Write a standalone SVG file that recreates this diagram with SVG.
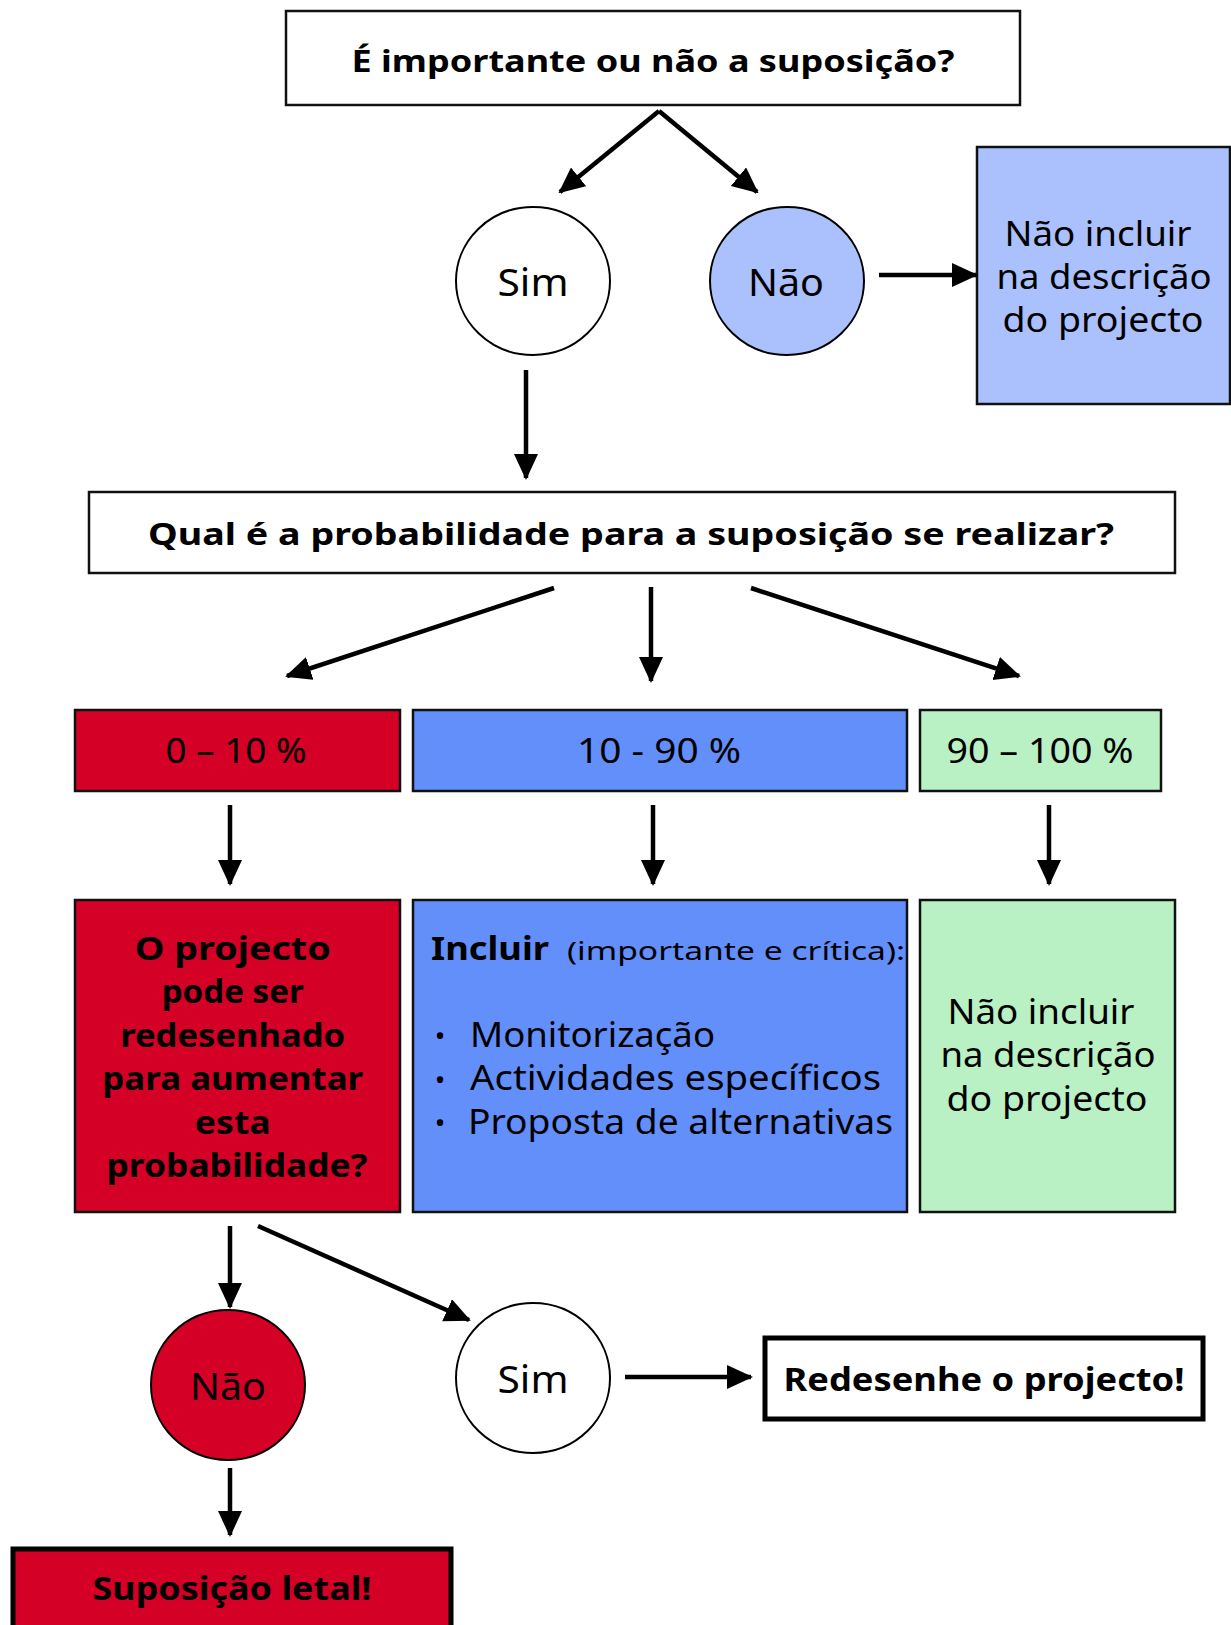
<svg xmlns="http://www.w3.org/2000/svg" width="1231" height="1625" viewBox="0 0 1231 1625">
<style>
text{font-family:"Noto Sans","DejaVu Sans",sans-serif;fill:#000;text-anchor:middle}
.b{font-weight:bold}
.box{stroke:#111;stroke-width:2.5}
.thick{stroke:#000;stroke-width:5}
.conn line{stroke:#000;stroke-width:4.5;marker-end:url(#ah)}
</style>
<defs>
<marker id="ah" markerUnits="userSpaceOnUse" markerWidth="26" markerHeight="26" refX="24" refY="12" orient="auto">
<path d="M0,0 L26,12 L0,24 Z" fill="#000"/>
</marker>
</defs>
<rect width="1231" height="1625" fill="#fff"/>

<g id="q1">
<rect class="box" x="286" y="11" width="734" height="94" fill="#fff"/>
<text class="b" x="653" y="72" font-size="30" textLength="603" lengthAdjust="spacingAndGlyphs">É importante ou não a suposição?</text>
</g>
<g id="sim1">
<ellipse cx="533" cy="281" rx="77" ry="74" fill="#fff" stroke="#000" stroke-width="2"/>
<text x="533" y="296" font-size="38" textLength="71" lengthAdjust="spacingAndGlyphs">Sim</text>
</g>
<g id="nao1">
<ellipse cx="787" cy="281" rx="77" ry="74" fill="#abc1fe" stroke="#000" stroke-width="2"/>
<text x="786" y="296" font-size="38" textLength="76" lengthAdjust="spacingAndGlyphs">Não</text>
</g>
<g id="naoincluir1">
<rect class="box" x="977" y="147" width="253" height="257" fill="#abc1fe"/>
<text x="1098" y="246" font-size="34" textLength="187" lengthAdjust="spacingAndGlyphs">Não incluir</text>
<text x="1104" y="289" font-size="34" textLength="215" lengthAdjust="spacingAndGlyphs">na descrição</text>
<text x="1103" y="332" font-size="34" textLength="201" lengthAdjust="spacingAndGlyphs">do projecto</text>
</g>
<g id="q2">
<rect class="box" x="89" y="492" width="1086" height="81" fill="#fff"/>
<text class="b" x="631" y="545" font-size="30" textLength="966" lengthAdjust="spacingAndGlyphs">Qual é a probabilidade para a suposição se realizar?</text>
</g>
<g id="r0">
<rect class="box" x="75" y="710" width="325" height="81" fill="#d40026"/>
<text x="236" y="763" font-size="34" textLength="141" lengthAdjust="spacingAndGlyphs">0 – 10 %</text>
</g>
<g id="r10">
<rect class="box" x="413" y="710" width="494" height="81" fill="#638ffb"/>
<text x="659" y="763" font-size="34" textLength="164" lengthAdjust="spacingAndGlyphs">10 - 90 %</text>
</g>
<g id="r90">
<rect class="box" x="920" y="710" width="241" height="81" fill="#b9f1c5"/>
<text x="1040" y="763" font-size="34" textLength="187" lengthAdjust="spacingAndGlyphs">90 – 100 %</text>
</g>
<g id="redesign">
<rect class="box" x="75" y="900" width="325" height="312" fill="#d40026"/>
<text class="b" font-size="33">
<tspan x="237" y="960" textLength="196" lengthAdjust="spacingAndGlyphs">O projecto</tspan>
<tspan x="237" y="1003" textLength="142" lengthAdjust="spacingAndGlyphs">pode ser</tspan>
<tspan x="237" y="1047" textLength="225" lengthAdjust="spacingAndGlyphs">redesenhado</tspan>
<tspan x="237" y="1090" textLength="261" lengthAdjust="spacingAndGlyphs">para aumentar</tspan>
<tspan x="237" y="1134" textLength="76" lengthAdjust="spacingAndGlyphs">esta</tspan>
<tspan x="237" y="1177" textLength="261" lengthAdjust="spacingAndGlyphs">probabilidade?</tspan>
</text>
</g>
<g id="incluir">
<rect class="box" x="413" y="900" width="494" height="312" fill="#638ffb"/>
<text class="b" x="431" y="960" font-size="32" style="text-anchor:start" textLength="118" lengthAdjust="spacingAndGlyphs">Incluir</text>
<text x="567" y="960" font-size="26" style="text-anchor:start" textLength="338" lengthAdjust="spacingAndGlyphs">(importante e crítica):</text>
<text x="440" y="1046" font-size="28">•</text>
<text x="440" y="1090" font-size="28">•</text>
<text x="440" y="1133" font-size="28">•</text>
<text x="470" y="1047" font-size="34" style="text-anchor:start" textLength="245" lengthAdjust="spacingAndGlyphs">Monitorização</text>
<text x="470" y="1090" font-size="34" style="text-anchor:start" textLength="411" lengthAdjust="spacingAndGlyphs">Actividades específicos</text>
<text x="468" y="1134" font-size="34" style="text-anchor:start" textLength="425" lengthAdjust="spacingAndGlyphs">Proposta de alternativas</text>
</g>
<g id="naoincluir2">
<rect class="box" x="920" y="900" width="255" height="312" fill="#b9f1c5"/>
<text x="1041" y="1024" font-size="34" textLength="187" lengthAdjust="spacingAndGlyphs">Não incluir</text>
<text x="1048" y="1067" font-size="34" textLength="215" lengthAdjust="spacingAndGlyphs">na descrição</text>
<text x="1047" y="1111" font-size="34" textLength="201" lengthAdjust="spacingAndGlyphs">do projecto</text>
</g>
<g id="nao2">
<ellipse cx="228" cy="1385" rx="77" ry="75" fill="#d40026" stroke="#000" stroke-width="2"/>
<text x="228" y="1400" font-size="38" textLength="76" lengthAdjust="spacingAndGlyphs">Não</text>
</g>
<g id="sim2">
<ellipse cx="533" cy="1378" rx="77" ry="75" fill="#fff" stroke="#000" stroke-width="2"/>
<text x="533" y="1393" font-size="38" textLength="71" lengthAdjust="spacingAndGlyphs">Sim</text>
</g>
<g id="redesenhe">
<rect class="thick" x="765" y="1338" width="438" height="81" fill="#fff"/>
<text class="b" x="984" y="1391" font-size="32" textLength="401" lengthAdjust="spacingAndGlyphs">Redesenhe o projecto!</text>
</g>
<g id="letal">
<rect class="thick" x="13" y="1549" width="438" height="90" fill="#d40026"/>
<text class="b" x="232" y="1600" font-size="32" textLength="279" lengthAdjust="spacingAndGlyphs">Suposição letal!</text>
</g>

<g id="connectors" class="conn">
<line x1="659" y1="111" x2="560" y2="192"/>
<line x1="659" y1="111" x2="757" y2="192"/>
<line x1="879" y1="275" x2="976" y2="275"/>
<line x1="526" y1="370" x2="526" y2="478"/>
<line x1="554" y1="588" x2="287" y2="676"/>
<line x1="651" y1="587" x2="651" y2="681"/>
<line x1="751" y1="588" x2="1019" y2="676"/>
<line x1="230" y1="805" x2="230" y2="884"/>
<line x1="653" y1="805" x2="653" y2="884"/>
<line x1="1049" y1="805" x2="1049" y2="884"/>
<line x1="230" y1="1226" x2="230" y2="1307"/>
<line x1="258" y1="1226" x2="469" y2="1320"/>
<line x1="625" y1="1377" x2="751" y2="1377"/>
<line x1="230" y1="1468" x2="230" y2="1535"/>
</g>
</svg>
